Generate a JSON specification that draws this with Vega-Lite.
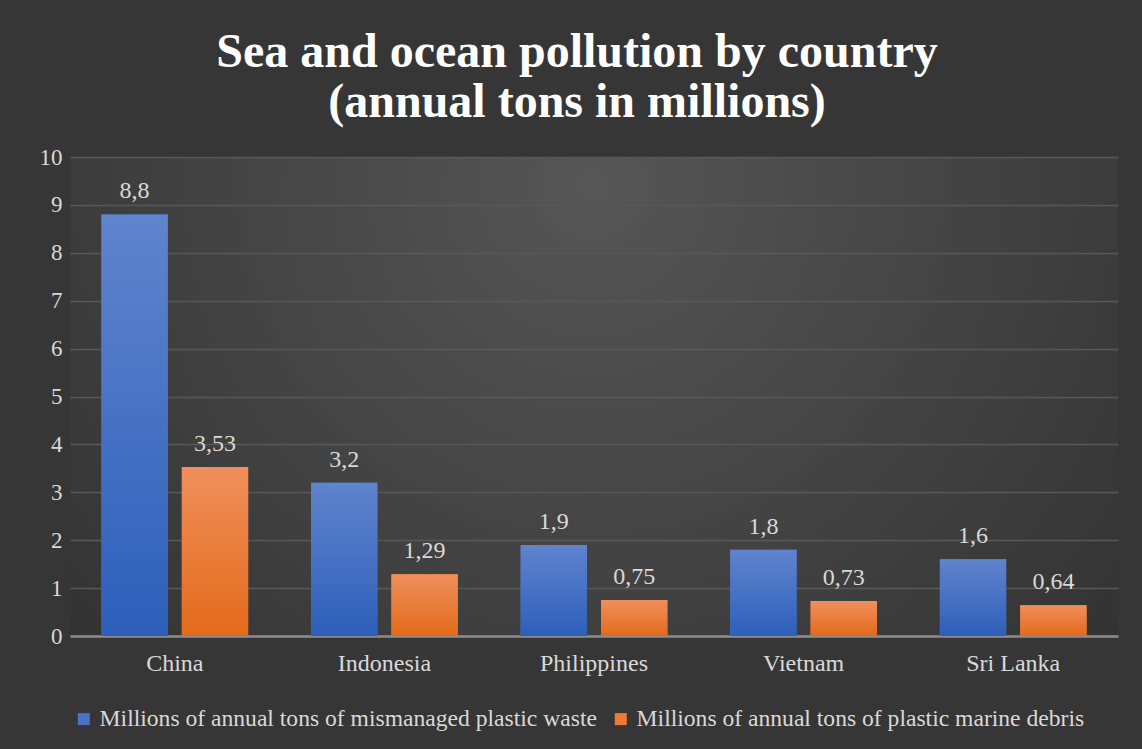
{
  "$schema": "https://vega.github.io/schema/vega-lite/v6.json",
  "autosize": "none",
  "width": 1048,
  "height": 479,
  "padding": {"left": 70, "top": 157, "right": 24, "bottom": 113},
  "background": "#363636",
  "config": {
    "locale": {"number": {"decimal": ",", "thousands": ".", "grouping": [3], "currency": ["", "€"]}},
    "view": {"stroke": null, "fill": {"gradient": "radial", "x1": 0.5, "y1": 0.3, "r1": 0, "x2": 0.5, "y2": 0.3, "r2": 0.75, "stops": [{"offset": 0, "color": "#565656"}, {"offset": 1, "color": "#2e2e2e"}]}},
    "font": "Liberation Serif"
  },
  "title": {
    "text": ["Sea and ocean pollution by country", "(annual tons in millions)"],
    "font": "Liberation Serif",
    "fontSize": 48,
    "fontWeight": "bold",
    "color": "#ffffff",
    "lineHeight": 50,
    "anchor": "middle",
    "dx": -17,
    "offset": 19
  },
  "data": {
    "values": [
      {"country": "China", "series": "Millions of annual tons of mismanaged plastic waste", "value": 8.8},
      {"country": "China", "series": "Millions of annual tons of plastic marine debris", "value": 3.53},
      {"country": "Indonesia", "series": "Millions of annual tons of mismanaged plastic waste", "value": 3.2},
      {"country": "Indonesia", "series": "Millions of annual tons of plastic marine debris", "value": 1.29},
      {"country": "Philippines", "series": "Millions of annual tons of mismanaged plastic waste", "value": 1.9},
      {"country": "Philippines", "series": "Millions of annual tons of plastic marine debris", "value": 0.75},
      {"country": "Vietnam", "series": "Millions of annual tons of mismanaged plastic waste", "value": 1.8},
      {"country": "Vietnam", "series": "Millions of annual tons of plastic marine debris", "value": 0.73},
      {"country": "Sri Lanka", "series": "Millions of annual tons of mismanaged plastic waste", "value": 1.6},
      {"country": "Sri Lanka", "series": "Millions of annual tons of plastic marine debris", "value": 0.64}
    ]
  },
  "encoding": {
    "x": {
      "field": "country", "type": "nominal", "sort": null, "title": null,
      "scale": {"paddingInner": 0.3, "paddingOuter": 0.15},
      "axis": {"labelAngle": 0, "labelFont": "Liberation Serif", "labelFontSize": 24, "labelColor": "#d9d9d9", "labelPadding": 15, "ticks": false, "domain": true, "domainColor": "#8c8c8c", "domainWidth": 2.5, "grid": false}
    },
    "xOffset": {"field": "series", "type": "nominal", "scale": {"paddingInner": 0.175, "paddingOuter": 0}},
    "y": {
      "field": "value", "type": "quantitative", "title": null,
      "scale": {"domain": [0, 10], "nice": false},
      "axis": {"values": [0,1,2,3,4,5,6,7,8,9,10], "labelFont": "Liberation Serif", "labelFontSize": 23, "labelColor": "#d9d9d9", "labelPadding": 8, "ticks": false, "domain": false, "gridColor": "#585858", "gridWidth": 1.5, "format": "d"}
    }
  },
  "layer": [
    {
      "mark": {"type": "bar"},
      "encoding": {
        "color": {
          "field": "series", "type": "nominal",
          "scale": {"range": ["#4a72c8", "#ee7b33"]},
          "legend": {"orient": "none", "legendX": 2, "legendY": 550, "direction": "horizontal", "title": null, "symbolType": "square", "symbolSize": 144, "symbolStrokeWidth": 0, "symbolOpacity": 1, "labelFont": "Liberation Serif", "labelFontSize": 23.6, "labelColor": "#d9d9d9", "labelLimit": 700, "columnPadding": 12, "symbolOffset": 0, "labelOffset": 4, "padding": 0}
        }
      }
    },
    {
      "transform": [{"filter": "datum.series === 'Millions of annual tons of mismanaged plastic waste'"}],
      "mark": {"type": "bar", "fill": {"gradient": "linear", "x1": 0, "y1": 0, "x2": 0, "y2": 1, "stops": [{"offset": 0, "color": "#6084cd"}, {"offset": 1, "color": "#2d5fba"}]}}
    },
    {
      "transform": [{"filter": "datum.series === 'Millions of annual tons of plastic marine debris'"}],
      "mark": {"type": "bar", "fill": {"gradient": "linear", "x1": 0, "y1": 0, "x2": 0, "y2": 1, "stops": [{"offset": 0, "color": "#f08f5c"}, {"offset": 1, "color": "#e36a1a"}]}}
    },
    {
      "mark": {"type": "text", "baseline": "alphabetic", "dy": -16, "font": "Liberation Serif", "fontSize": 24, "color": "#d9d9d9"},
      "encoding": {"text": {"field": "value", "type": "quantitative", "format": ".3~g"}}
    }
  ]
}
